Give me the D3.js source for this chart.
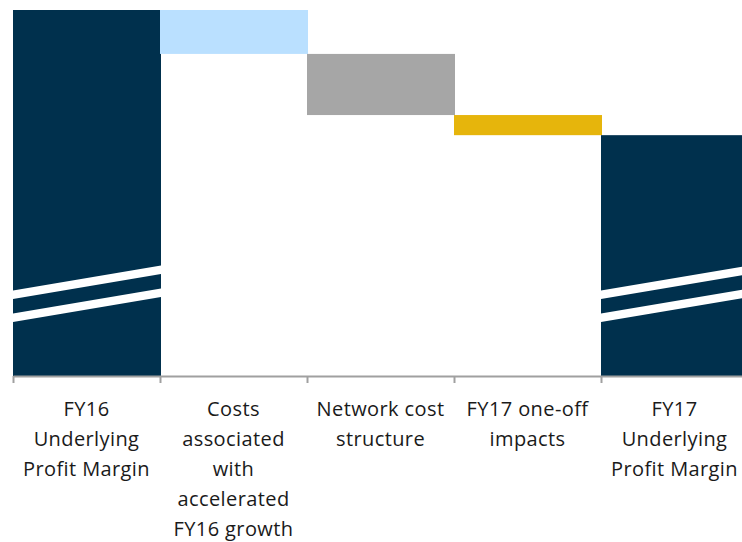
<!DOCTYPE html>
<html>
<head>
<meta charset="utf-8">
<script src="https://cdn.jsdelivr.net/npm/d3@7"></script>
<style>
  body { margin: 0; background: #fff; }
  svg { display: block; font-family: "Open Sans", "Noto Sans", sans-serif; }
</style>
</head>
<body>
<div id="chart"></div>
<script>
// waterfall: FY16 -> FY17 underlying profit margin (axis is broken, units arbitrary)
var categories = ["FY16 Underlying Profit Margin", "Costs associated with accelerated FY16 growth",
    "Network cost structure", "FY17 one-off impacts", "FY17 Underlying Profit Margin"];
var labelLines = [
    ["FY16", "Underlying", "Profit Margin"],
    ["Costs", "associated", "with", "accelerated", "FY16 growth"],
    ["Network cost", "structure"],
    ["FY17 one-off", "impacts"],
    ["FY17", "Underlying", "Profit Margin"]
];
var values = [10, -1.2, -1.67, -0.55, null];   // null = running total
var kinds = ["total", "step", "step", "step", "total"];
var colors = ["#00304d", "#bae0ff", "#a6a6a6", "#e6b50c", "#00304d"];

var width = 742, height = 542;

var svg = d3.select("#chart").append("svg")
    .attr("width", width)
    .attr("height", height);

// build start/end for each bar
var running = 0;
var bars = categories.map(function(c, i) {
    var start, end;
    if (kinds[i] == "total") {
        if (values[i] != null) running = values[i];
        start = 0; end = running;
    } else {
        start = running; running = running + values[i]; end = running;
    }
    return {cat: c, lines: labelLines[i], kind: kinds[i], start: start, end: end, color: colors[i]};
});

var x = d3.scaleBand()
    .domain(categories)
    .range([13, 748])
    .padding(0);

var y = d3.scaleLinear()
    .domain([0, 10])
    .range([376, 10]);

svg.selectAll(".bar")
    .data(bars)
    .enter().append("rect")
    .attr("class", "bar")
    .attr("x", function(d) { return x(d.cat); })
    .attr("width", x.bandwidth() + 1)
    .attr("y", function(d) { return y(Math.max(d.start, d.end)); })
    .attr("height", function(d) { return Math.abs(y(d.start) - y(d.end)); })
    .attr("fill", function(d) { return d.color; });

// axis break stripes on the total bars
var bw = x.bandwidth() + 1;
var rise = 25, thick = 8.5;
[0, 23].forEach(function(off) {
    svg.selectAll(".brk" + off)
        .data(bars.filter(function(d) { return d.kind == "total"; }))
        .enter().append("path")
        .attr("fill", "#fff")
        .attr("d", function(d) {
            var x0 = x(d.cat), x1 = x0 + bw;
            var yl = y(0) - 85.5 + off;
            return "M" + x0 + "," + yl + "L" + x1 + "," + (yl - rise) +
                "L" + x1 + "," + (yl - rise + thick) + "L" + x0 + "," + (yl + thick) + "Z";
        });
});

// axis with ticks at band boundaries
var xEdge = d3.scaleLinear().domain([0, categories.length]).range(x.range());
var axis = svg.append("g")
    .attr("transform", "translate(0," + y(0) + ")")
    .call(d3.axisBottom(xEdge)
        .tickValues(d3.range(categories.length + 1))
        .tickSize(7)
        .tickSizeOuter(0)
        .tickFormat(""));
axis.select(".domain").attr("stroke", "#a0a0a0").attr("stroke-width", 2);
axis.selectAll(".tick line").attr("stroke", "#a0a0a0").attr("stroke-width", 2);

// category labels
var lbl = svg.selectAll(".lbl")
    .data(bars)
    .enter().append("text")
    .attr("class", "lbl")
    .attr("text-anchor", "middle")
    .attr("font-size", 20)
    .attr("letter-spacing", "0.4px")
    .attr("fill", "#1a1a1a");

lbl.selectAll("tspan")
    .data(function(d) { return d.lines.map(function(t) { return {t: t, cx: x(d.cat) + x.bandwidth() / 2}; }); })
    .enter().append("tspan")
    .attr("x", function(d) { return d.cx; })
    .attr("y", function(d, i) { return 416 + i * 30; })
    .text(function(d) { return d.t; });
</script>
</body>
</html>
